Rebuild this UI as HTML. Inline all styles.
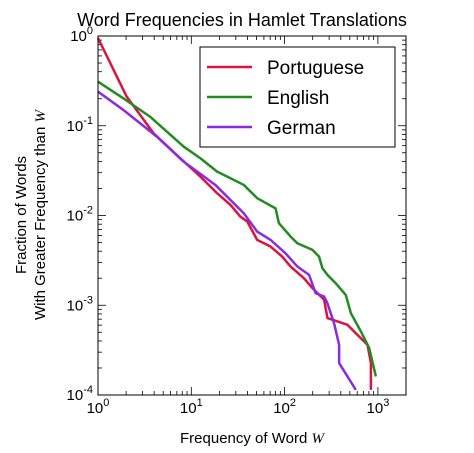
<!DOCTYPE html>
<html><head><meta charset="utf-8"><style>
html,body{margin:0;padding:0;background:#fff;}
svg{display:block;font-family:"Liberation Sans",sans-serif;}
</style></head><body>
<svg id="chart" width="474" height="453"></svg>
<script>
const seriesNames = ["Portuguese","English","German"];
const seriesColors = ["#dc143c","#228b22","#8a2be2"];
const portX = [1,2.03,3.94,7.3,12.5,18.9,26.3,33.6,39.7,50.8,70.7,94.4,116,161,199,265,288,472,604,774,841,841];
const portY = [0.95,0.211,0.0825,0.0453,0.0271,0.0177,0.0131,0.0097,0.0086,0.00535,0.00451,0.00348,0.0027,0.002,0.00155,0.00115,0.00072,0.000605,0.000468,0.000362,0.000227,0.000114];
const engX = [1,1.87,3.62,8.27,12.5,18.9,26.3,36.5,50.8,80,86.9,116,137,199,234,254,288,353,453,513,657,807,951];
const engY = [0.31,0.202,0.126,0.0586,0.0434,0.0308,0.026,0.0219,0.0156,0.012,0.0082,0.00582,0.00491,0.00414,0.00348,0.00259,0.00218,0.00176,0.0013,0.000816,0.00051,0.000333,0.000161];
const gerX = [1,1.87,4.27,8.27,13,18.1,26.3,36.5,50.8,70.7,102,137,183,215,265,288,339,384,384,580];
const gerY = [0.24,0.15,0.0757,0.0398,0.0283,0.0219,0.0149,0.0106,0.00662,0.00535,0.0038,0.0027,0.00218,0.00136,0.00125,0.00105,0.00063,0.000362,0.000227,0.000114];
const xTickExp = [0,1,2,3];
const yTickExp = [0,-1,-2,-3,-4];

const NS="http://www.w3.org/2000/svg";
const svg=document.getElementById('chart');
const L=98,R=406,T=36,B=395;
const xMin=0,xMax=Math.log10(2000),yMin=-4,yMax=0;
function sx(v){return L+(Math.log10(v)-xMin)/(xMax-xMin)*(R-L);}
function sy(v){return B-(Math.log10(v)-yMin)/(yMax-yMin)*(B-T);}
function el(tag,attrs,parent){const e=document.createElementNS(NS,tag);for(const k in attrs)e.setAttribute(k,attrs[k]);(parent||svg).appendChild(e);return e;}

// ticks
const tg=el('g',{stroke:'#000','stroke-width':0.8});


for(let e=0;e<=3;e++){for(let m=1;m<10;m++){const v=Math.pow(10,e)*m;if(Math.log10(v)>xMax)break;const x=sx(v);const len=m===1?8:4;
el('line',{x1:x,x2:x,y1:B,y2:B-len},tg);el('line',{x1:x,x2:x,y1:T,y2:T+len},tg);}}
for(let e=-4;e<=0;e++){for(let m=1;m<10;m++){const v=Math.pow(10,e)*m;if(v>1)break;const y=sy(v);const len=m===1?8:4;
el('line',{x1:L,x2:L+len,y1:y,y2:y},tg);el('line',{x1:R,x2:R-len,y1:y,y2:y},tg);}}

xTickExp.forEach(e=>{const t=el('text',{x:sx(Math.pow(10,e)),y:B+18,'text-anchor':'middle','font-size':15});


t.innerHTML='10<tspan dy="-7" font-size="11">'+e+'</tspan>';});
yTickExp.forEach(e=>{const t=el('text',{x:L-5,y:sy(Math.pow(10,e))+5,'text-anchor':'end','font-size':15});


t.innerHTML='10<tspan dy="-7" font-size="11">'+e+'</tspan>';});

const xs=[portX,engX,gerX],ys=[portY,engY,gerY];
xs.forEach((X,i)=>{const p=el('polyline',{points:X.map((v,j)=>sx(v)+','+sy(ys[i][j])).join(' '),fill:'none',stroke:seriesColors[i],'stroke-width':2.5,'stroke-linejoin':'round'});

});

const fr=el('rect',{x:L,y:T,width:R-L,height:B-T,fill:'none',stroke:'#000','stroke-width':1});



const lg=el('g',{});


el('rect',{x:200,y:47,width:195,height:100,fill:'#fff',stroke:'#000','stroke-width':1},lg);
seriesNames.forEach((n,i)=>{const y=67+i*30;
el('line',{x1:207,x2:252,y1:y,y2:y,stroke:seriesColors[i],'stroke-width':2.5},lg);
const t=el('text',{x:267,y:y+7,'font-size':19},lg);t.textContent=n;

});

const ti=el('text',{x:242,y:26,'text-anchor':'middle','font-size':18});ti.textContent='Word Frequencies in Hamlet Translations';


const xl=el('text',{x:252,y:443,'text-anchor':'middle','font-size':15});xl.innerHTML='Frequency of Word <tspan font-family="Liberation Serif" font-style="italic">W</tspan>';


const yl=el('text',{transform:'translate(0,215) rotate(-90)','text-anchor':'middle','font-size':15});


yl.innerHTML='<tspan x="0" y="26">Fraction of Words</tspan><tspan x="0" y="45">With Greater Frequency than <tspan font-family="Liberation Serif" font-style="italic">W</tspan></tspan>';
</script>
</body></html>
